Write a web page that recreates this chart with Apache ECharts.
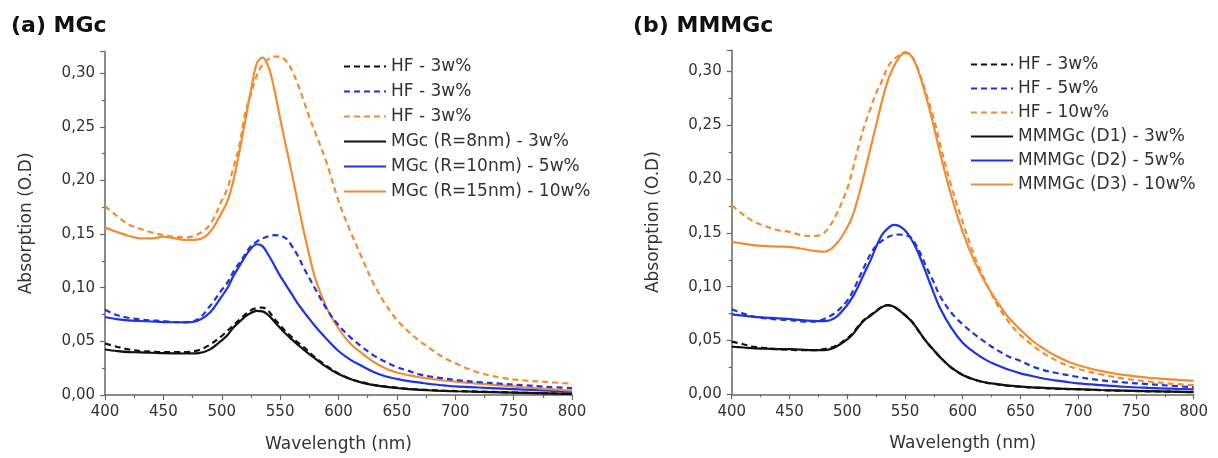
<!DOCTYPE html>
<html>
<head>
<meta charset="utf-8">
<script src="https://cdn.jsdelivr.net/npm/echarts@6/dist/echarts.min.js"></script>
<style>
  html, body { margin: 0; padding: 0; background: #fff; }
  #chart { width: 1218px; height: 458px; }
</style>
</head>
<body>
<div id="chart"></div>
<script>
// Wavelengths (nm), shared by every curve
const wavelengths = [400,410,420,430,440,450,460,470,480,490,500,505,510,515,520,525,530,535,540,545,550,555,560,565,570,575,580,590,600,610,620,630,640,650,660,670,680,690,700,720,740,760,780,800];

// Panel (a) MGc
const aHfBlack = [.048,.045,.0425,.041,.0405,.040,.040,.040,.0417,.047,.055, .060,.065,.070,.075,.079,.081,.0815,.0785,.071,.065,.059,.054,.049,.045,.040,.035, .027,.020,.015,.012,.0095,.008,.0068,.0058,.005,.0045,.004,.0037, .0032,.0027,.002,.0015,.001];
const aHfBlue = [.0795,.0745,.072,.0705,.0695,.069,.068,.068,.071,.083,.098, .105,.115,.123,.131,.139,.143,.146,.148,.149,.1485,.146,.139,.130,.119,.109,.099, .080,.065,.054,.045,.037,.031,.026,.0225,.019,.017,.0155,.014, .012,.0105,.009,.0075,.0065];
const aHfOrange = [.176,.167,.159,.155,.1515,.149,.1475,.147,.150,.159,.181, .193,.212,.232,.262,.280,.298,.308,.313,.3155,.3155,.3115,.303,.290,.275,.259,.245, .216,.181,.153,.128,.104,.085,.070,.059,.050,.042,.035,.0295, .021,.016,.0135,.012,.0105];
const aMgcBlack = [.0424,.041,.040,.0398,.0394,.039,.0388,.0387,.039,.0425,.051, .056,.063,.068,.073,.0765,.0785,.078,.0745,.0685,.0625,.0568,.0518,.047,.0425,.038,.034, .026,.0195,.015,.0115,.0093,.0075,.0065,.0055,.0048,.0042,.0038,.0035, .003,.0025,.002,.0015,.001];
const aMgcBlue = [.0727,.0708,.0695,.069,.0685,.068,.0678,.0677,.0695,.077,.092, .100,.111,.120,.129,.1365,.1405,.1385,.1305,.121,.111,.1025,.094,.0855,.078,.071,.064, .052,.041,.033,.027,.0215,.0175,.015,.013,.0115,.010,.009,.008, .007,.006,.005,.004,.003];
const aMgcOrange = [.156,.152,.1485,.146,.146,.1475,.146,.1445,.145,.152,.170, .181,.200,.226,.255,.284,.309,.3145,.306,.285,.258,.232,.207,.180,.154,.130,.109, .081,.062,.048,.039,.031,.025,.021,.0185,.0165,.015,.0135,.0125, .0105,.009,.007,.0055,.004];

// Panel (b) MMMGc
const bHfBlack = [.049,.0465,.044,.043,.042,.0415,.041,.041,.042,.045,.052, .057,.064,.0695,.0735,.0775,.0812,.0828,.0815,.0782,.0738,.069,.0615,.0538,.047,.041,.035, .0248,.018,.0136,.0108,.0093,.0079,.0071,.0064,.0058,.0053,.0049,.0046, .0038,.0032,.0028,.0024,.002];
const bHfBlue = [.079,.075,.072,.0705,.0695,.069,.0678,.0675,.070,.076,.087, .096,.1076,.119,.130,.138,.1425,.146,.148,.1485,.1478,.146,.138,.127,.115,.104,.092, .076,.065,.056,.048,.041,.035,.031,.026,.0225,.020,.018,.016, .013,.011,.0095,.008,.0065];
const bHfOrange = [.1756,.167,.160,.156,.1525,.151,.148,.147,.150,.166,.191, .210,.231,.250,.265,.280,.291,.304,.311,.315,.317,.3155,.306,.291,.274,.256,.234, .194,.160,.129,.104,.083,.067,.055,.046,.038,.032,.027,.0235, .0185,.0145,.012,.010,.0085];
const bMmmBlack = [.0442,.0435,.0427,.0424,.042,.042,.0415,.041,.041,.044,.051, .056,.063,.069,.073,.077,.081,.0829,.0815,.078,.0736,.0685,.062,.054,.047,.041,.035, .025,.018,.0138,.011,.0095,.008,.0072,.0065,.006,.0055,.005,.0048, .004,.0035,.003,.0025,.002];
const bMmmBlue = [.0742,.073,.072,.0713,.0705,.070,.069,.0683,.068,.0715,.083, .091,.1014,.113,.124,.137,.148,.154,.1575,.1565,.1524,.145,.135,.122,.108,.094,.081, .062,.048,.039,.032,.027,.0228,.0195,.017,.0147,.013,.0115,.0102, .0085,.007,.006,.0052,.0045];
const bMmmOrange = [.1416,.140,.1385,.1378,.1373,.137,.1355,.1335,.1325,.139,.155, .167,.185,.206,.228,.250,.272,.291,.304,.313,.318,.315,.305,.289,.270,.249,.226, .185,.151,.124,.103,.086,.071,.060,.050,.0425,.036,.031,.027, .0215,.018,.0155,.0138,.0125];

const xTicks = [400,450,500,550,600,650,700,750,800];
const yTicks = [0,0.05,0.10,0.15,0.20,0.25,0.30];

const namesA = ['HF - 3w% #1','HF - 3w% #2','HF - 3w% #3','MGc (R=8nm) - 3w%','MGc (R=10nm) - 5w%','MGc (R=15nm) - 10w%'];
const namesB = ['HF - 3w%','HF - 5w%','HF - 10w%','MMMGc (D1) - 3w%','MMMGc (D2) - 5w%','MMMGc (D3) - 10w%'];

const BLACK = '#111111', BLUE = '#1e32e6', ORANGE = '#f28c32';
const FONT = 'DejaVu Sans';

function pairs(vals) { return wavelengths.map((w, i) => [w, vals[i]]); }

function mkSeries(name, vals, color, dashed, idx) {
  return {
    name: name, type: 'line', xAxisIndex: idx, yAxisIndex: idx,
    data: pairs(vals), smooth: 0.35, symbol: 'none', showSymbol: false,
    lineStyle: { color: color, width: 2.2, type: dashed ? [6, 4] : 'solid' },
    itemStyle: { color: color }, z: dashed ? 3 : 2,
    emphasis: { disabled: true }
  };
}

function xAxis(idx) {
  return {
    type: 'value', gridIndex: idx, min: 400, max: 800, interval: 50,
    name: 'Wavelength (nm)', nameLocation: 'middle', nameGap: 41,
    nameTextStyle: { fontFamily: FONT, fontSize: 17, color: '#333' },
    axisLine: { show: true, onZero: false, lineStyle: { color: '#666', width: 1.5 } },
    axisTick: { show: true, length: 5, lineStyle: { color: '#666', width: 1.2 } },
    minorTick: { show: true, splitNumber: 2, length: 3, lineStyle: { color: '#666', width: 1.2 } },
    splitLine: { show: false },
    axisLabel: { fontFamily: FONT, fontSize: 15, color: '#333', margin: 10,
      formatter: v => xTicks.indexOf(v) >= 0 ? String(v) : '' }
  };
}

function yAxis(idx) {
  return {
    type: 'value', gridIndex: idx, min: 0, max: 0.32, interval: 0.05,
    name: 'Absorption (O.D)', nameLocation: 'middle', nameGap: 70,
    nameTextStyle: { fontFamily: FONT, fontSize: 17, color: '#333' },
    axisLine: { show: true, lineStyle: { color: '#666', width: 1.5 } },
    axisTick: { show: true, length: 5, lineStyle: { color: '#666', width: 1.2 } },
    minorTick: { show: true, splitNumber: 2, length: 3, lineStyle: { color: '#666', width: 1.2 } },
    splitLine: { show: false },
    axisLabel: { fontFamily: FONT, fontSize: 15, color: '#333', margin: 10, showMaxLabel: false,
      formatter: v => {
        const t = yTicks.find(k => Math.abs(k - v) < 1e-6);
        return t === undefined ? '' : t.toFixed(2).replace('.', ',');
      } }
  };
}

function legend(names, left, top, gap) {
  return {
    data: names, orient: 'vertical', left: left, top: top, itemGap: gap,
    itemWidth: 42, itemHeight: 14, padding: 0, selectedMode: false,
    itemStyle: { color: 'rgba(0,0,0,0)', borderColor: 'rgba(0,0,0,0)', borderWidth: 0, opacity: 0 },
    textStyle: { fontFamily: FONT, fontSize: 17, color: '#333' },
    formatter: n => n.replace(/ #\d$/, '')
  };
}

const chart = echarts.init(document.getElementById('chart'), null, { renderer: 'canvas' });
chart.setOption({
  animation: false,
  backgroundColor: '#ffffff',
  title: [
    { text: '(a) MGc', left: 11, top: 15, padding: 0, textStyle: { fontFamily: FONT, fontSize: 22, fontWeight: 'bold', color: '#111' } },
    { text: '(b) MMMGc', left: 633, top: 15, padding: 0, textStyle: { fontFamily: FONT, fontSize: 22, fontWeight: 'bold', color: '#111' } }
  ],
  legend: [ legend(namesA, 343, 58, 8), legend(namesB, 970, 56, 7) ],
  grid: [
    { left: 105, top: 51.7, width: 467, height: 345 },
    { left: 731.7, top: 50, width: 462, height: 344.3 }
  ],
  xAxis: [ xAxis(0), xAxis(1) ],
  yAxis: [ yAxis(0), yAxis(1) ],
  series: [
    mkSeries(namesA[0], aHfBlack, BLACK, true, 0),
    mkSeries(namesA[1], aHfBlue, BLUE, true, 0),
    mkSeries(namesA[2], aHfOrange, ORANGE, true, 0),
    mkSeries(namesA[3], aMgcBlack, BLACK, false, 0),
    mkSeries(namesA[4], aMgcBlue, BLUE, false, 0),
    mkSeries(namesA[5], aMgcOrange, ORANGE, false, 0),
    mkSeries(namesB[0], bHfBlack, BLACK, true, 1),
    mkSeries(namesB[1], bHfBlue, BLUE, true, 1),
    mkSeries(namesB[2], bHfOrange, ORANGE, true, 1),
    mkSeries(namesB[3], bMmmBlack, BLACK, false, 1),
    mkSeries(namesB[4], bMmmBlue, BLUE, false, 1),
    mkSeries(namesB[5], bMmmOrange, ORANGE, false, 1)
  ]
});
</script>
</body>
</html>
